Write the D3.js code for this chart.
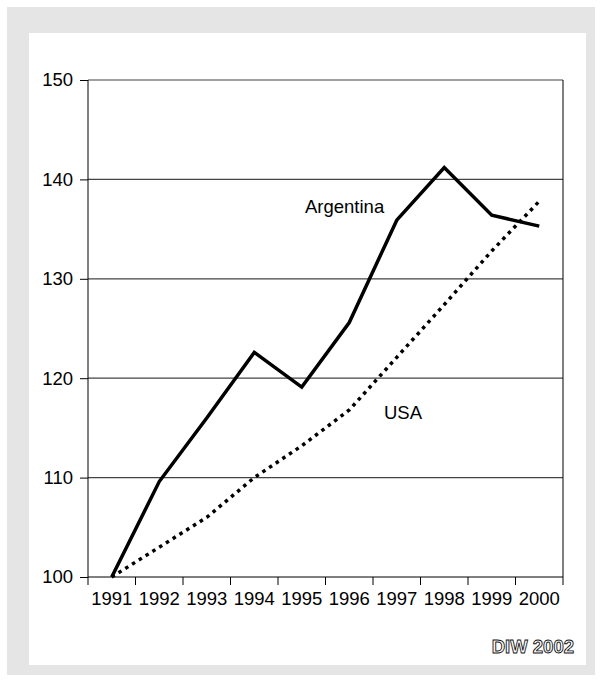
<!DOCTYPE html>
<html>
<head>
<meta charset="utf-8">
<script src="https://cdn.jsdelivr.net/npm/d3@7"></script>
<style>
  html, body { margin: 0; padding: 0; background: #fff; }
  svg { display: block; font-family: "Liberation Sans", Arial, sans-serif; }
</style>
</head>
<body>
<svg id="chart" width="603" height="682"></svg>
<script>
// Index values, 1991 = 100
const years = ["1991", "1992", "1993", "1994", "1995", "1996", "1997", "1998", "1999", "2000"];
const argentina = [100, 109.6, 116.0, 122.6, 119.1, 125.6, 135.9, 141.2, 136.4, 135.3];
const usa = [100, 103.0, 106.0, 110.0, 113.2, 116.8, 122.1, 127.4, 132.8, 137.8];
const yTicks = [100, 110, 120, 130, 140, 150];

const fontSize = 18.5;
const svg = d3.select("#chart");

// outer frame and inner panel
svg.append("rect").attr("x", 7).attr("y", 7).attr("width", 588).attr("height", 668).attr("fill", "#e5e5e5");
svg.append("rect").attr("x", 29).attr("y", 33).attr("width", 557).attr("height", 632).attr("fill", "#fff");

const plotLeft = 88, plotRight = 563, plotTop = 80, plotBottom = 577;

const x = d3.scaleBand().domain(years).range([plotLeft, plotRight]);
const y = d3.scaleLinear().domain([100, 150]).range([plotBottom, plotTop]);

// horizontal gridlines
svg.append("g").selectAll("line").data(yTicks.slice(1)).join("line")
  .attr("x1", plotLeft).attr("x2", plotRight)
  .attr("y1", d => y(d)).attr("y2", d => y(d))
  .attr("stroke", "#444").attr("stroke-width", 1.2);

// right border
svg.append("line").attr("x1", plotRight).attr("x2", plotRight).attr("y1", plotTop).attr("y2", plotBottom)
  .attr("stroke", "#000").attr("stroke-width", 1);

// y axis
const yAxis = svg.append("g").attr("transform", `translate(${plotLeft},0)`)
  .call(d3.axisLeft(y).tickValues(yTicks).tickSize(8).tickPadding(7).tickFormat(d3.format("d")));
yAxis.selectAll("text").attr("font-size", fontSize).attr("fill", "#000").attr("font-family", "Liberation Sans, Arial, sans-serif");
yAxis.selectAll("line,path").attr("stroke", "#000");
yAxis.select(".domain").attr("d", `M0,${plotTop}V${plotBottom}`);

// x axis with ticks between categories
const xAxis = svg.append("g").attr("transform", `translate(0,${plotBottom})`);
xAxis.append("line").attr("x1", plotLeft).attr("x2", plotRight).attr("stroke", "#000");
const bounds = years.map(d => x(d)).concat([plotRight]);
xAxis.selectAll("line.tick").data(bounds).join("line").attr("class", "tick")
  .attr("x1", d => d).attr("x2", d => d).attr("y1", 0).attr("y2", 8).attr("stroke", "#000");
xAxis.selectAll("text").data(years).join("text")
  .attr("x", d => x(d) + x.bandwidth() / 2).attr("y", 28)
  .attr("text-anchor", "middle").attr("font-size", fontSize).attr("fill", "#000")
  .text(d => d);

const line = d3.line().x((d, i) => x(years[i]) + x.bandwidth() / 2).y(d => y(d));

svg.append("path").datum(usa).attr("d", line)
  .attr("fill", "none").attr("stroke", "#000").attr("stroke-width", 3.5)
  .attr("stroke-dasharray", "3.5,4.5");

svg.append("path").datum(argentina).attr("d", line)
  .attr("fill", "none").attr("stroke", "#000").attr("stroke-width", 3.5)
  .attr("stroke-linejoin", "miter");

// series labels
svg.append("text").attr("x", 305).attr("y", 213).attr("font-size", fontSize).text("Argentina");
svg.append("text").attr("x", 384).attr("y", 419).attr("font-size", fontSize).text("USA");

// source
svg.append("text").attr("x", 574).attr("y", 653).attr("text-anchor", "end")
  .attr("font-size", fontSize).attr("font-weight", "bold")
  .attr("fill", "#fff").attr("stroke", "#111").attr("stroke-width", 0.9)
  .text("DIW 2002");
</script>
</body>
</html>
